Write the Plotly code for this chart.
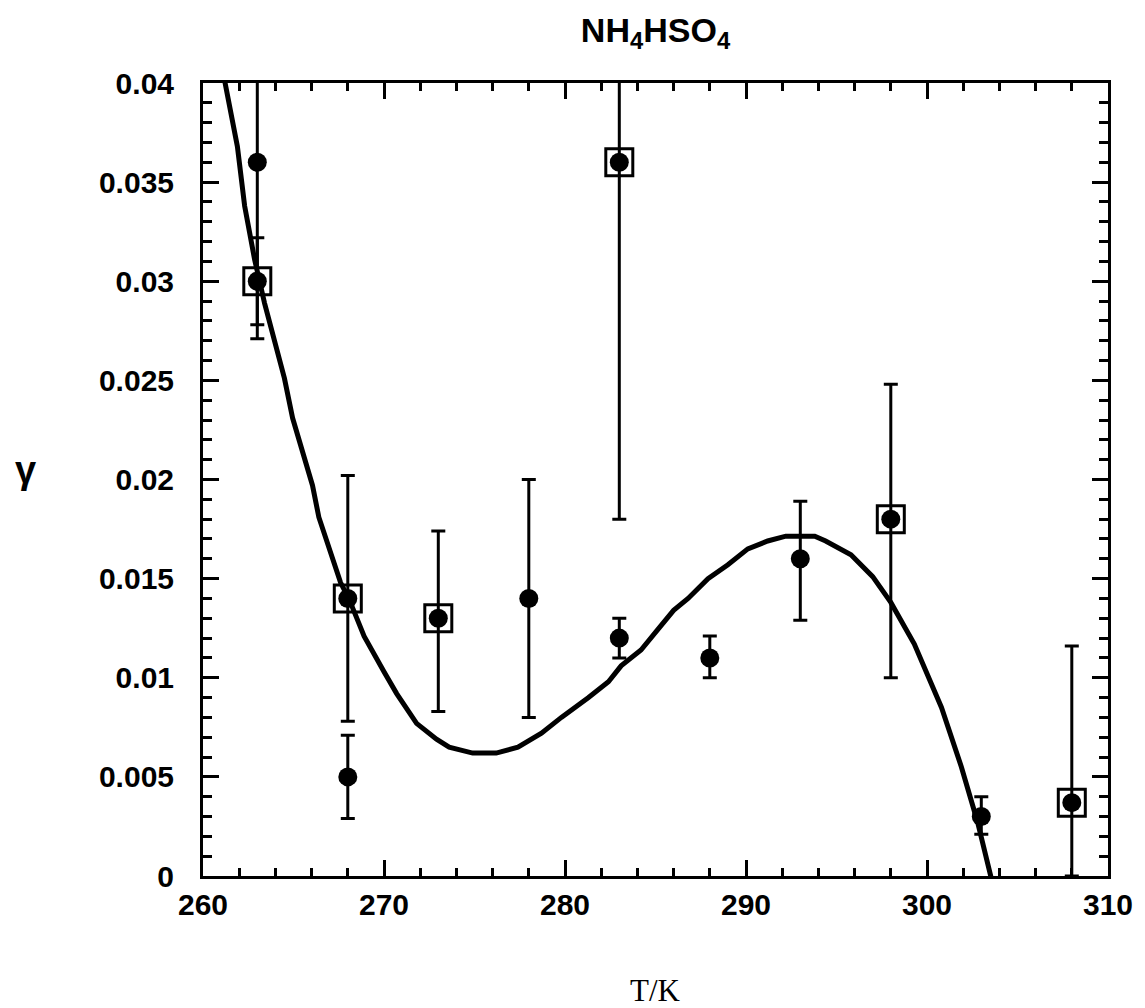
import plotly.graph_objects as go

# Fitted curve
curve_T = [261.2, 261.9, 262.3, 262.85, 263.4, 263.95, 264.5, 264.95, 265.6, 266.05,
           266.4, 267.05, 267.6, 268.1, 268.9, 270.0, 270.7, 271.8, 272.9, 273.6,
           274.9, 276.2, 277.4, 278.7, 279.8, 281.3, 282.4, 283.1, 284.2, 285.1,
           286.0, 286.8, 287.9, 289.0, 290.1, 291.2, 292.2, 293.8, 294.4, 295.8,
           297.0, 298.0, 299.3, 300.8, 301.9, 302.8, 303.6]
curve_g = [0.0401, 0.0368, 0.0338, 0.0311, 0.0289, 0.0269, 0.0251, 0.0231, 0.0210, 0.0197,
           0.0181, 0.0163, 0.0148, 0.0139, 0.0121, 0.0103, 0.0092, 0.0077, 0.0069, 0.0065,
           0.0062, 0.0062, 0.0065, 0.0072, 0.0080, 0.0090, 0.0098, 0.0106, 0.0114, 0.0124,
           0.0134, 0.0140, 0.0150, 0.0157, 0.0165, 0.0169, 0.01714, 0.01714, 0.0169, 0.0162,
           0.0151, 0.0138, 0.0117, 0.0085, 0.0055, 0.0027, -0.0003]

# Data set 1: filled circles
T1 = [263, 268, 278, 283, 288, 293, 303]
g1 = [0.036, 0.005, 0.014, 0.012, 0.011, 0.016, 0.003]
lo1 = [0.0278, 0.0029, 0.0080, 0.0110, 0.0100, 0.0129, 0.0021]
hi1 = [0.044, 0.0071, 0.0200, 0.0130, 0.0121, 0.0189, 0.0040]

# Data set 2: circles inside open squares
T2 = [263, 268, 273, 283, 298, 308]
g2 = [0.030, 0.014, 0.013, 0.036, 0.018, 0.0037]
lo2 = [0.0271, 0.0078, 0.0083, 0.0180, 0.0100, 0.0]
hi2 = [0.0322, 0.0202, 0.0174, 0.044, 0.0248, 0.0116]

x_ticks = [260, 270, 280, 290, 300, 310]
x_labels = ["260", "270", "280", "290", "300", "310"]
y_ticks = [0, 0.005, 0.01, 0.015, 0.02, 0.025, 0.03, 0.035, 0.04]
y_labels = ["0", "0.005", "0.01", "0.015", "0.02", "0.025", "0.03", "0.035", "0.04"]

title_text = "NH<sub>4</sub>HSO<sub>4</sub>"
x_title = "T/K"
y_title = "γ"

fig = go.Figure()

fig.add_trace(go.Scatter(x=curve_T, y=curve_g, mode="lines",
                         line=dict(color="black", width=5), showlegend=False))

fig.add_trace(go.Scatter(
    x=T1, y=g1, mode="markers",
    marker=dict(symbol="circle", size=19, color="black"),
    error_y=dict(type="data", symmetric=False,
                 array=[h - v for h, v in zip(hi1, g1)],
                 arrayminus=[v - l for l, v in zip(lo1, g1)],
                 color="black", thickness=3, width=7),
    showlegend=False))

fig.add_trace(go.Scatter(
    x=T2, y=g2, mode="markers",
    marker=dict(symbol="circle", size=19, color="black"),
    error_y=dict(type="data", symmetric=False,
                 array=[h - v for h, v in zip(hi2, g2)],
                 arrayminus=[v - l for l, v in zip(lo2, g2)],
                 color="black", thickness=3, width=7),
    showlegend=False))

fig.add_trace(go.Scatter(
    x=T2, y=g2, mode="markers",
    marker=dict(symbol="square-open", size=27, color="black",
                line=dict(color="black", width=3)),
    showlegend=False))

tickfont = dict(family="Liberation Sans", size=30, color="black", weight="bold")

fig.update_layout(
    width=1137, height=1000,
    margin=dict(l=195, r=27, t=75, b=132),
    plot_bgcolor="white", paper_bgcolor="white",
    title=dict(text=title_text, x=0.5, xanchor="center", xref="paper",
               y=1 - 22 / 1000, yanchor="middle", yref="container",
               font=dict(family="Liberation Sans", size=34, color="black", weight="bold")),
    xaxis=dict(range=[260, 310], tickmode="array", tickvals=x_ticks, ticktext=x_labels,
               ticks="inside", ticklen=16, tickwidth=3, tickcolor="black",
               showline=True, linewidth=3, linecolor="black", mirror="allticks",
               showgrid=False, zeroline=False, tickfont=tickfont,
               ticklabelstandoff=0,
               minor=dict(dtick=2, tick0=260, ticks="inside", ticklen=8, tickwidth=3,
                          tickcolor="black", showgrid=False)),
    yaxis=dict(range=[0, 0.04], tickmode="array", tickvals=y_ticks, ticktext=y_labels,
               ticks="inside", ticklen=16, tickwidth=3, tickcolor="black",
               showline=True, linewidth=3, linecolor="black", mirror="allticks",
               showgrid=False, zeroline=False, tickfont=tickfont,
               ticklabelstandoff=20,
               minor=dict(dtick=0.001, tick0=0, ticks="inside", ticklen=9, tickwidth=3,
                          tickcolor="black", showgrid=False)),
    annotations=[
        dict(text=x_title, xref="paper", yref="paper", x=0.5, y=-(990 - 876) / 793,
             xanchor="center", yanchor="middle", showarrow=False,
             font=dict(family="Liberation Serif", size=31, color="black")),
        dict(text=y_title, xref="paper", yref="paper", x=-(203 - 24) / 915,
             y=(876 - 470) / 793, xanchor="center", yanchor="middle", showarrow=False,
             font=dict(family="Liberation Sans", size=38, color="black", weight="bold")),
    ],
)

fig.write_html("out.html")
